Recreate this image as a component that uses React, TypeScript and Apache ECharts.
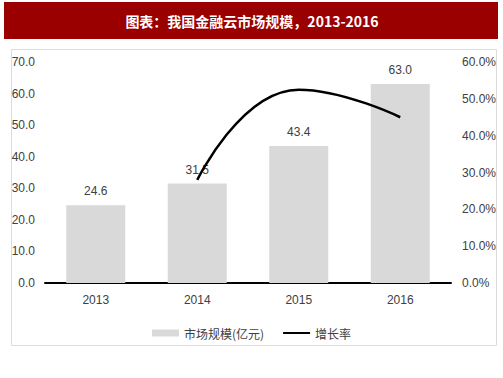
import React, { useEffect, useRef } from "react";
import * as echarts from "echarts";

const categories = ["2013", "2014", "2015", "2016"];
const marketSize = [24.6, 31.5, 43.4, 63.0];
const growthRate: (number | string)[] = ["-", 28.0, 52.5, 45.0];
const leftTicks = { min: 0, max: 70, interval: 10 };
const rightTicks = { min: 0, max: 60, interval: 10 };
const titleText = "图表：我国金融云市场规模，2013-2016";
const seriesNames = ["市场规模(亿元)", "增长率"];

const narrow = "'Liberation Sans Narrow', 'Arial Narrow', Arial, sans-serif";

export default function App() {
  const ref = useRef<HTMLDivElement>(null);
  useEffect(() => {
    if (!ref.current) return;
    const chart = echarts.init(ref.current, undefined, { renderer: "svg" });
    chart.setOption({
      animation: false,
      backgroundColor: "#ffffff",
      graphic: [
        { type: "rect", shape: { x: 4, y: 2, width: 494, height: 37 }, style: { fill: "#9b0000" } },
        {
          type: "text",
          x: 252,
          y: 21,
          style: {
            text: titleText,
            fill: "#ffffff",
            font: "bold 14px 'Noto Sans CJK SC', sans-serif",
            textAlign: "center",
            textVerticalAlign: "middle",
          },
        },
        {
          type: "rect",
          shape: { x: 11.5, y: 49.5, width: 485, height: 296 },
          style: { fill: "none", stroke: "#dcdcdc", lineWidth: 1 },
        },
      ],
      grid: { left: 45, right: 52, top: 62, bottom: 95 },
      legend: {
        bottom: 34,
        left: "center",
        itemWidth: 27,
        itemHeight: 7,
        itemGap: 18,
        textStyle: { color: "#404040", fontSize: 12, fontFamily: "'Noto Sans CJK SC', sans-serif" },
        data: [
          { name: seriesNames[0], icon: "rect" },
          { name: seriesNames[1], itemStyle: { opacity: 0 } },
        ],
      },
      xAxis: {
        type: "category",
        data: categories,
        axisLine: { lineStyle: { color: "#000000", width: 2 } },
        axisTick: { show: false },
        axisLabel: { color: "#404040", fontSize: 12, fontFamily: narrow, margin: 11 },
      },
      yAxis: [
        {
          type: "value",
          ...leftTicks,
          axisLine: { show: false },
          axisTick: { show: false },
          splitLine: { show: false },
          axisLabel: {
            color: "#404040",
            fontSize: 12,
            fontFamily: narrow,
            margin: 10,
            formatter: (v: number) => v.toFixed(1),
          },
        },
        {
          type: "value",
          ...rightTicks,
          axisLine: { show: false },
          axisTick: { show: false },
          splitLine: { show: false },
          axisLabel: {
            color: "#404040",
            fontSize: 12,
            fontFamily: narrow,
            margin: 11,
            formatter: (v: number) => v.toFixed(1) + "%",
          },
        },
      ],
      series: [
        {
          name: seriesNames[0],
          type: "bar",
          data: marketSize,
          barWidth: 59,
          itemStyle: { color: "#d9d9d9" },
          label: {
            show: true,
            position: "top",
            distance: 8,
            color: "#404040",
            fontSize: 12,
            fontFamily: narrow,
            formatter: (p: any) => Number(p.value).toFixed(1),
          },
        },
        {
          name: seriesNames[1],
          type: "line",
          yAxisIndex: 1,
          data: growthRate,
          smooth: true,
          showSymbol: false,
          symbol: "none",
          lineStyle: { color: "#000000", width: 2.5 },
          itemStyle: { color: "#000000" },
        },
      ],
    });
    return () => chart.dispose();
  }, []);
  return (
    <div
      ref={ref}
      style={{ position: "fixed", left: 0, top: 0, width: 503, height: 378 }}
    />
  );
}
